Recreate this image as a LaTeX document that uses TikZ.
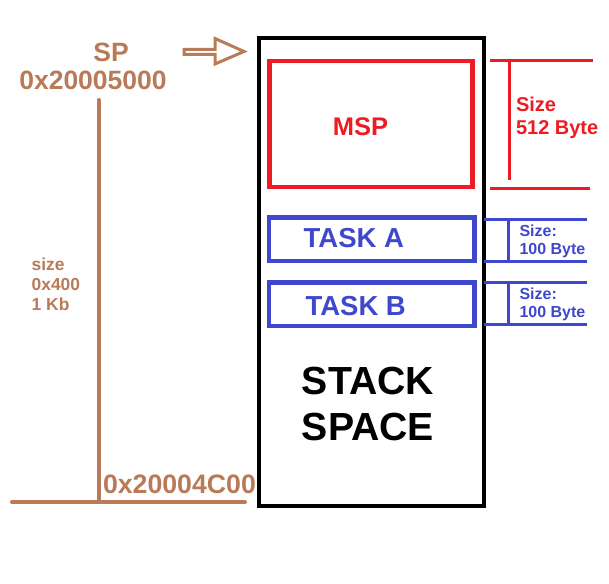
\documentclass[tikz,border=0pt]{standalone}
\usepackage{fontspec}
\setmainfont{Liberation Sans}
\usetikzlibrary{positioning,calc}
\definecolor{spbrown}{RGB}{185,122,87}
\definecolor{mspred}{RGB}{237,28,36}
\definecolor{taskblue}{RGB}{63,72,204}
\newcommand{\lblfont}[2]{\fontsize{#1}{#2}\selectfont\bfseries}
\tikzset{
  frame/.style={draw,line width=4pt,inner sep=0pt,outer sep=0pt,anchor=north west},
  mspbox/.style={draw=mspred,line width=4.5pt,inner sep=0pt,outer sep=0pt,anchor=north west},
  taskbox/.style={draw=taskblue,line width=4.5pt,inner sep=0pt,outer sep=0pt,anchor=north west,minimum width=205.5,minimum height=43.5},
  lbl/.style={inner sep=0pt,outer sep=0pt},
  redline/.style={draw=mspred,line width=3pt},
  blueline/.style={draw=taskblue,line width=3pt},
  brownline/.style={draw=spbrown,line width=4pt,line cap=round},
}
\begin{document}
\begin{tikzpicture}[x=1pt,y=-1pt]
\useasboundingbox (0,0) rectangle (609,583);
% stack area and its parts
\node[frame,minimum width=225,minimum height=468] (stack) at (259,38) {};
\node[mspbox,minimum width=202.8,minimum height=126] (msp) at (269.7,61) {};
\node[taskbox] (taska) at (269,217.5) {};
\node[taskbox,minimum height=43.3] (taskb) at (269,282.5) {};
\node[lbl,anchor=base,text=mspred,font=\lblfont{25.5}{25.5}] (msptxt) at (360.5,135) {MSP};
\node[lbl,anchor=base,text=taskblue,font=\lblfont{27.5}{27.5}] (tasktxta) at (353.8,247.7) {TASK A};
\node[lbl,anchor=base,text=taskblue,font=\lblfont{27.5}{27.5}] (tasktxtb) at (355.7,315) {TASK B};
\node[lbl,anchor=north,align=center,font=\lblfont{39.2}{45.6}] (space) at (368,367.5) {STACK\\SPACE};
% size brackets
\draw[redline] (490,61) -- (593,61);
\draw[redline] (509.5,61) -- (509.5,180);
\draw[redline] (490,188) -- (590,188);
\node[lbl,anchor=north west,align=left,text=mspred,font=\lblfont{20}{23.7}] (mspsize) at (516,96.7) {Size\\512 Byte};
\foreach \name/\top/\bot in {a/219.3/261,b/282.3/324} {
  \draw[blueline] (stack.east |- 0,\top) -- (587,\top);
  \draw[blueline] (stack.east |- 0,\bot) -- (587,\bot);
  \draw[blueline] (508.5,\top) -- (508.5,\bot);
  \node[lbl,anchor=north west,align=left,text=taskblue,font=\lblfont{16}{18.3}] (size\name) at (519.5,\top+5.7) {Size:\\100 Byte};
}
% stack pointer side
\node[lbl,anchor=base,text=spbrown,font=\lblfont{26.5}{26.5}] (sp) at (111,61.7) {SP};
\node[lbl,anchor=base,text=spbrown,font=\lblfont{26.5}{26.5}] (spaddr) at (93,89.3) {0x20005000};
\node[lbl,anchor=base west,text=spbrown,font=\lblfont{26.7}{26.7}] (endaddr) at (103,493) {0x20004C00};
\node[lbl,anchor=north west,align=left,text=spbrown,font=\lblfont{17.4}{19.7}] (stacksize) at (31.7,258.2) {size\\0x400\\1 Kb};
\coordinate (top) at (98.5,100);
\coordinate (bot) at (98.5,502);
\coordinate (left) at (12,502);
\coordinate (right) at (245,502);
\draw[brownline] (top) -- (bot);
\draw[brownline] (left) -- (right);
\draw[draw=spbrown,line width=3pt,line join=miter] (184,49.5) -- (215,49.5) -- (215,38.5) -- (244,51.5) -- (215,64) -- (215,54.5) -- (184,54.5) -- cycle;
\end{tikzpicture}
\end{document}
